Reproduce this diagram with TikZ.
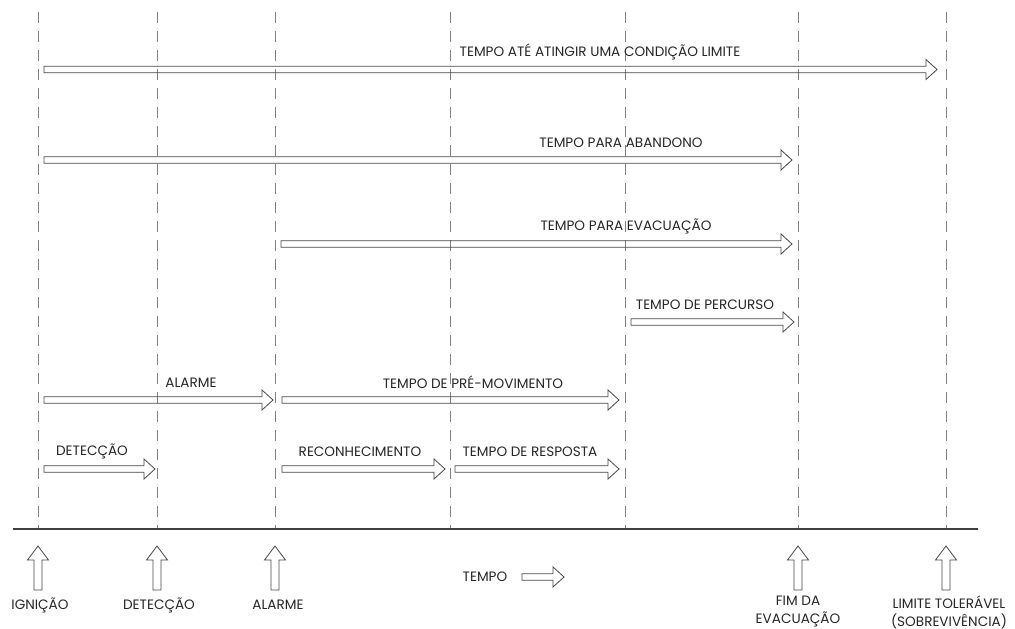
\documentclass[tikz,border=0pt]{standalone}
\usepackage{fontspec}
\setmainfont{Poppins}
\usetikzlibrary{calc}
% outline arrow along a row, between two events
\newcommand{\tempo}[5]{%
  \draw[tarrow] let \p1=($(#1)+(#3,0)$), \p2=($(#2)+(-#4,0)$), \p3=(0,#5) in
    (\x1,{\y3+3.3pt}) -- ({\x2-11pt},{\y3+3.3pt}) -- ({\x2-11pt},{\y3+10pt}) -- (\x2,\y3)
    -- ({\x2-11pt},{\y3-10pt}) -- ({\x2-11pt},{\y3-3.3pt}) -- (\x1,{\y3-3.3pt}) -- cycle;}
% outline arrow pointing up to an event on the time axis
\newcommand{\marco}[1]{%
  \draw[tarrow] let \p1=(#1), \p2=(0,590), \p3=(0,546) in
    ({\x1-4pt},\y2) -- ({\x1-4pt},{\y3-14pt}) -- ({\x1-10.5pt},{\y3-14pt}) -- (\x1,\y3)
    -- ({\x1+10.5pt},{\y3-14pt}) -- ({\x1+4pt},{\y3-14pt}) -- ({\x1+4pt},\y2) -- cycle;}
\tikzset{
  tarrow/.style={draw=black!72,line width=0.8pt},
  marker/.style={draw=black!50,line width=0.9pt,dash pattern=on 11pt off 8pt},
  lbl/.style={font=\fontsize{13.6}{18}\selectfont,text=black!85,inner sep=0pt,align=center}
}
\begin{document}
\begin{tikzpicture}[x=1pt,y=-1pt]
\useasboundingbox (0,0) rectangle (1015,629);
%events
 \coordinate (ign) at (38,12);
 \coordinate (det) at (157,12);
 \coordinate (alm) at (275,12);
 \coordinate (rec) at (450,12);
 \coordinate (resp) at (625,12);
 \coordinate (fim) at (798,12);
 \coordinate (lim) at (946,12);
%dashed lines
 \foreach \ev in {ign,det,alm,rec,resp,fim,lim}
   \draw[marker] (\ev) -- (\ev|-0,529);
%time axis
 \coordinate (axl) at (13,529);
 \coordinate (axr) at (978,529);
 \draw[black!75,line width=1.6pt] (axl) -- (axr);
%rows of arrows
	\tempo{ign}{lim}{6}{9}{69.5} %limit condition
	\node[lbl] (t-limite) at (600,52) {TEMPO ATÉ ATINGIR UMA CONDIÇÃO LIMITE};
	\tempo{ign}{fim}{6}{6}{160} %abandon
	\node[lbl] (t-abandono) at (621,142.5) {TEMPO PARA ABANDONO};
	\tempo{alm}{fim}{6}{6}{244} %evacuation
	\node[lbl] (t-evacuacao) at (626,226.5) {TEMPO PARA EVACUAÇÃO};
	\tempo{resp}{fim}{6}{4}{322} %route
	\node[lbl] (t-percurso) at (705,304.5) {TEMPO DE PERCURSO};
	
	\tempo{ign}{alm}{6}{2}{400} %alarm
	\node[lbl] (t-alarme) at (191,382.5) {ALARME};
	\tempo{alm}{resp}{7}{6}{400} %pre-movement
	\node[lbl] (t-premov) at (473,382.5) {TEMPO DE PRÉ-MOVIMENTO};
	
	\tempo{ign}{det}{6}{2}{469} %detection
	\node[lbl] (t-deteccao) at (92,451.5) {DETECÇÃO};
	\tempo{alm}{rec}{7}{5}{469} %recognition
	\node[lbl] (t-reconhec) at (360,451.5) {RECONHECIMENTO};
	\tempo{rec}{resp}{5}{6}{469} %response
	\node[lbl] (t-resposta) at (530,451.5) {TEMPO DE RESPOSTA};
%markers under the axis
	\foreach \ev in {ign,det,alm,fim,lim}
	  \marco{\ev};
	\node[lbl] (m-ign) at (40,605) {IGNIÇÃO};
	\node[lbl] (m-det) at (159,605) {DETECÇÃO};
	\node[lbl] (m-alm) at (278,605) {ALARME};
	\node[lbl] (m-fim) at (798,612) {FIM DA\\EVACUAÇÃO};
	\node[lbl] (m-lim) at (949,612) {LIMITE TOLERÁVEL\\(SOBREVIVÊNCIA)};
%time direction
	\node[lbl] (tempo) at (485,577) {TEMPO};
	\coordinate (ts) at (522,577);
	\coordinate (te) at (564,577);
	\tempo{ts}{te}{0}{0}{577}
\end{tikzpicture}
\end{document}
